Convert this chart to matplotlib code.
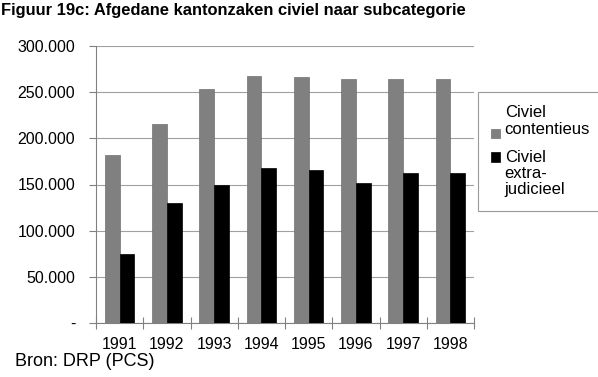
import matplotlib
matplotlib.use("Agg")
import matplotlib.pyplot as plt
import numpy as np
from matplotlib.ticker import FixedLocator

plt.rcParams['font.family'] = ['Liberation Sans', 'DejaVu Sans']

years = ['1991', '1992', '1993', '1994', '1995', '1996', '1997', '1998']
contentieus = [182000, 216000, 253000, 268000, 266000, 264000, 264000, 264000]
extrajudicieel = [75000, 130000, 150000, 168000, 166000, 152000, 162000, 162000]
yticks = [0, 50000, 100000, 150000, 200000, 250000, 300000]
ylabels = ['-', '50.000', '100.000', '150.000', '200.000', '250.000', '300.000']

W, H = 598, 377
fig = plt.figure(figsize=(W / 100, H / 100), dpi=100)
ax = fig.add_axes([96 / W, 1 - 323 / H, (474 - 96) / W, (323 - 46) / H])

x = np.arange(len(years))
bw = 0.31
ax.bar(x - bw / 2, contentieus, bw, color='#808080', edgecolor='#707070', linewidth=0.5,
       label='Civiel\ncontentieus', zorder=3)
ax.bar(x + bw / 2, extrajudicieel, bw, color='#000000', edgecolor='#000000', linewidth=0.5,
       label='Civiel\nextra-\njudicieel', zorder=3)

ax.set_xlim(-0.5, len(years) - 0.5)
ax.set_ylim(0, 300000)
ax.yaxis.set_major_locator(FixedLocator(yticks))
ax.set_yticklabels(ylabels)
ax.yaxis.grid(True, color='#a0a0a0', linewidth=0.8, zorder=0)

ax.set_xticks(x)
ax.set_xticklabels(years)
ax.set_xticks(np.arange(len(years) + 1) - 0.5, minor=True)
ax.tick_params(axis='x', which='major', length=0, pad=10, labelsize=11.5)
ax.tick_params(axis='x', which='minor', length=9, direction='inout', color='#808080', width=0.8)
ax.tick_params(axis='y', length=5, color='#808080', width=0.8, labelsize=11.5, pad=10)

for s in ['top', 'right']:
    ax.spines[s].set_visible(False)
for s in ['left', 'bottom']:
    ax.spines[s].set_color('#808080')
    ax.spines[s].set_linewidth(0.8)

leg = fig.legend(loc='upper left', bbox_to_anchor=(478 / W, 1 - 92 / H), frameon=True,
                 fontsize=12, handlelength=0.5, handleheight=0.5, handletextpad=0.3,
                 borderpad=0.8, labelspacing=0.8, fancybox=False, borderaxespad=0)
leg.get_frame().set_edgecolor('#808080')
leg.get_frame().set_linewidth(0.8)
for t in leg.get_texts():
    t.set_linespacing(1.1)
# align the legend squares as in the original
h = leg.legend_handles
h[0].set_y(h[0].get_y() - 9)
h[1].set_y(h[1].get_y() + 12)

fig.text(1 / W, 1 - 10 / H, 'Figuur 19c: Afgedane kantonzaken civiel naar subcategorie',
         fontsize=11.9, fontweight='bold', va='center', ha='left')
fig.text(15 / W, 1 - 361 / H, 'Bron: DRP (PCS)', fontsize=13, va='center', ha='left')

fig.savefig('out.png', dpi=100)
